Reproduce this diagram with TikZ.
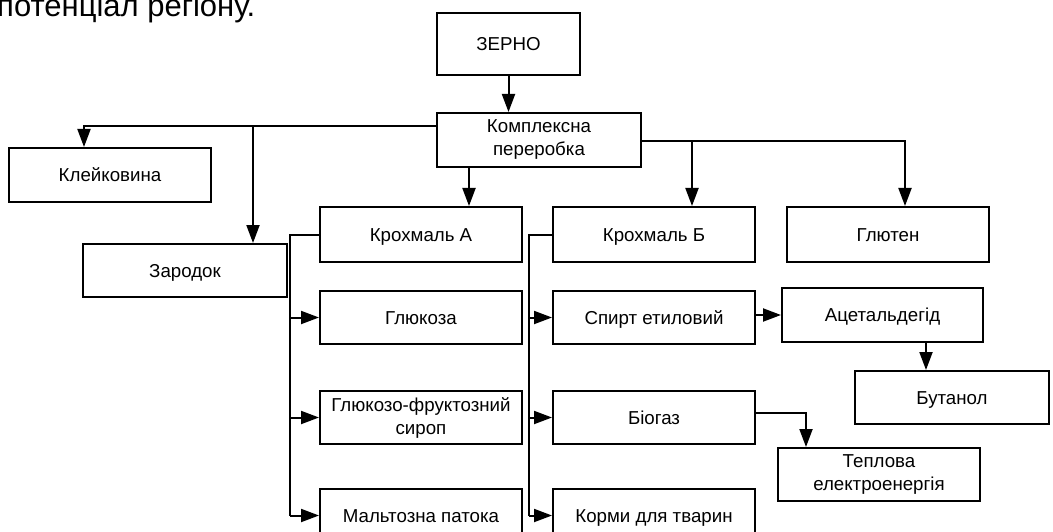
\documentclass[tikz,border=0pt]{standalone}
\usepackage{fontspec}
\setmainfont{Liberation Sans}
\usepackage{tikz}
\usetikzlibrary{arrows.meta,positioning,calc}

\begin{document}
\begin{tikzpicture}[
  x=1pt, y=-1pt,
  box/.style={
    draw, line width=2pt, align=center, inner sep=2pt,
    minimum width=202pt, minimum height=54pt,
    text height=13.4pt, text depth=0pt,
    font=\fontsize{18.7}{23}\selectfont
  },
  twoline/.style={text height={}, text depth={}},
  line/.style={line width=2pt},
  arrow/.style={-{Triangle[length=18pt,width=13pt]}, line width=2pt}
]
\useasboundingbox (0,0) rectangle (1053,532);
\clip (0,0) rectangle (1053,532);

\node[anchor=base west, inner sep=0pt, font=\fontsize{31}{33}\selectfont] (head) at (-3,16.5) {потенціал регіону.};

\node[box, minimum width=143pt, minimum height=62pt] (zerno) at (508.5,44) {ЗЕРНО};
\node[box, twoline, minimum width=204pt] (kompl) at (539,140) {Комплексна\\переробка};

\node[box] (kleik) at (110,175) {Клейковина};
\node[box, minimum width=204pt, minimum height=53pt] (zarod) at (185,270.5) {Зародок};

\node[box, minimum height=55pt] (krA) at (421,234.5) {Крохмаль А};
\node[box, minimum height=55pt] (krB) at (654,234.5) {Крохмаль Б};
\node[box, minimum height=55pt] (glut) at (888,234.5) {Глютен};

\node[box, minimum height=53pt, below=27pt of krA] (gluk) {Глюкоза};
\node[box, twoline, minimum height=53pt, below=45pt of gluk] (gfs) {Глюкозо-фруктозний\\сироп};
\node[box, minimum height=53pt, below=43pt of gfs] (malt) {Мальтозна патока};

\node[box, minimum height=53pt, below=27pt of krB] (spirt) {Спирт етиловий};
\node[box, minimum height=53pt, below=45pt of spirt] (biog) {Біогаз};
\node[box, minimum height=53pt, below=43pt of biog] (kormy) {Корми для тварин};

\node[box, minimum width=201pt] (acet) at (882.5,315) {Ацетальдегід};
\node[box, minimum width=194pt, minimum height=53pt] (butan) at (952,397.5) {Бутанол};
\node[box, twoline, minimum height=53pt] (tepl) at (879,474.5) {Теплова\\електроенергія};

% from grain to processing
\draw[arrow] (zerno) -- (zerno |- kompl.north);

% left branch
\coordinate (kl) at ($(kompl.north west)+(0,14)$);
\coordinate (kleikin) at ($(kleik.north west)+(76,0)$);
\coordinate (zarodin) at ($(zarod.north west)+(171,0)$);
\draw[arrow] (kl) -| (kleikin);
\draw[arrow] (kl -| zarodin) -- (zarodin);

% down to starch A
\coordinate (krAin) at ($(krA.north west)+(150,0)$);
\draw[arrow] (kompl.south -| krAin) -- (krAin);

% right branch
\coordinate (kr) at ($(kompl.north east)+(0,29)$);
\coordinate (glutin) at ($(glut.north west)+(119,0)$);
\coordinate (krBin) at ($(krB.north west)+(140,0)$);
\draw[arrow] (kr) -| (glutin);
\draw[arrow] (kr -| krBin) -- (krBin);

% column A
\coordinate (busA) at ($(krA.west)+(-29,0)$);
\draw[line] (krA.west) -- (busA) -- (busA |- malt.west);
\draw[arrow] (busA |- gluk.west) -- (gluk.west);
\draw[arrow] (busA |- gfs.west) -- (gfs.west);
\draw[arrow] (busA |- malt.west) -- (malt.west);

% column B
\coordinate (busB) at ($(krB.west)+(-23,0)$);
\draw[line] (krB.west) -- (busB) -- (busB |- kormy.west);
\draw[arrow] (busB |- spirt.west) -- (spirt.west);
\draw[arrow] (busB |- biog.west) -- (biog.west);
\draw[arrow] (busB |- kormy.west) -- (kormy.west);

% further products
\draw[arrow] (spirt.east |- acet.west) -- (acet.west);
\coordinate (acetout) at ($(acet.south west)+(145,0)$);
\draw[arrow] (acetout) -- (acetout |- butan.north);
\coordinate (biogout) at ($(biog.east)+(0,-5)$);
\coordinate (teplin) at ($(tepl.north west)+(29,0)$);
\draw[arrow] (biogout) -| (teplin);

\end{tikzpicture}
\end{document}
